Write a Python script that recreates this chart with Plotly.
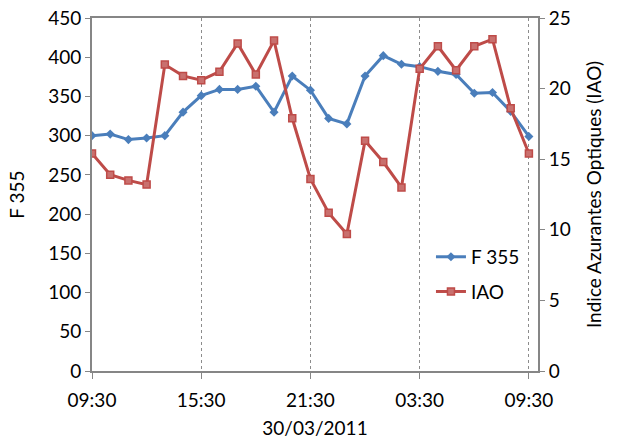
import plotly.graph_objects as go
import pandas as pd

times = pd.date_range("2011-03-30 09:30", "2011-03-31 09:30", freq="1h")
f355 = [300, 302, 295, 297, 300, 330, 351, 359, 359, 363, 330, 376, 358, 322, 315,
        376, 402, 391, 388, 382, 378, 354, 355, 331, 299]
iao = [15.4, 13.9, 13.5, 13.2, 21.7, 20.9, 20.6, 21.2, 23.2, 21.0, 23.4, 17.9, 13.6,
       11.2, 9.7, 16.3, 14.8, 13.0, 21.4, 23.0, 21.3, 23.0, 23.5, 18.6, 15.4]

blue = "#4A7EBB"
red = "#BE4B48"
axis_col = "#868686"
font = "Lato, Carlito, 'Liberation Sans', sans-serif"
fs = 19

fig = go.Figure()
fig.add_trace(go.Scatter(x=times, y=f355, name="F 355", mode="lines+markers",
                         legendgroup="a",
                         line=dict(color=blue, width=3),
                         marker=dict(symbol="diamond", size=7, color=blue)))
fig.add_trace(go.Scatter(x=times, y=iao, name="IAO", mode="lines+markers", yaxis="y2",
                         legendgroup="b",
                         line=dict(color=red, width=3),
                         marker=dict(symbol="square", size=7, color="#C9706E",
                                     line=dict(color=red, width=1.5))))

fig.update_layout(
    width=618, height=446,
    margin=dict(l=92, r=80, t=18, b=75),
    paper_bgcolor="white", plot_bgcolor="white",
    font=dict(family=font, size=fs, color="black"),
    showlegend=True,
    legend=dict(x=0.76, y=0.377, xanchor="left", yanchor="top",
                bgcolor="rgba(0,0,0,0)", font=dict(size=fs),
                tracegroupgap=7, itemwidth=30),
    xaxis=dict(
        type="date", automargin=False,
        range=["2011-03-30 09:30", "2011-03-31 10:00"],
        tick0="2011-03-30 09:30", dtick=6 * 3600 * 1000,
        tickformat="%H:%M",
        showline=True, linecolor=axis_col, linewidth=2, mirror=True,
        ticks="outside", ticklen=6, tickcolor=axis_col, tickwidth=1,
        ticklabelstandoff=5,
        showgrid=True, gridcolor="#8C8C8C", griddash="dot", gridwidth=1,
        zeroline=False,
        title=dict(text="30/03/2011", font=dict(size=fs), standoff=12),
    ),
    yaxis=dict(
        range=[0, 450], dtick=50, automargin=False,
        showline=True, linecolor=axis_col, linewidth=2,
        ticks="outside", ticklen=5, tickcolor=axis_col,
        showgrid=False, zeroline=False,
        title=dict(text="F 355", font=dict(size=fs), standoff=18),
    ),
    yaxis2=dict(
        range=[0, 25], dtick=5, overlaying="y", side="right", automargin=False,
        showline=True, linecolor=axis_col, linewidth=2,
        ticks="outside", ticklen=5, tickcolor=axis_col,
        showgrid=False, zeroline=False,
        title=dict(text="Indice Azurantes Optiques (IAO)", font=dict(size=fs), standoff=18),
    ),
)

# remove the default page margin so the figure sits at the window's corner
fig.write_html("out.html", config={"displayModeBar": False},
               post_script="document.body.style.margin='0';")
